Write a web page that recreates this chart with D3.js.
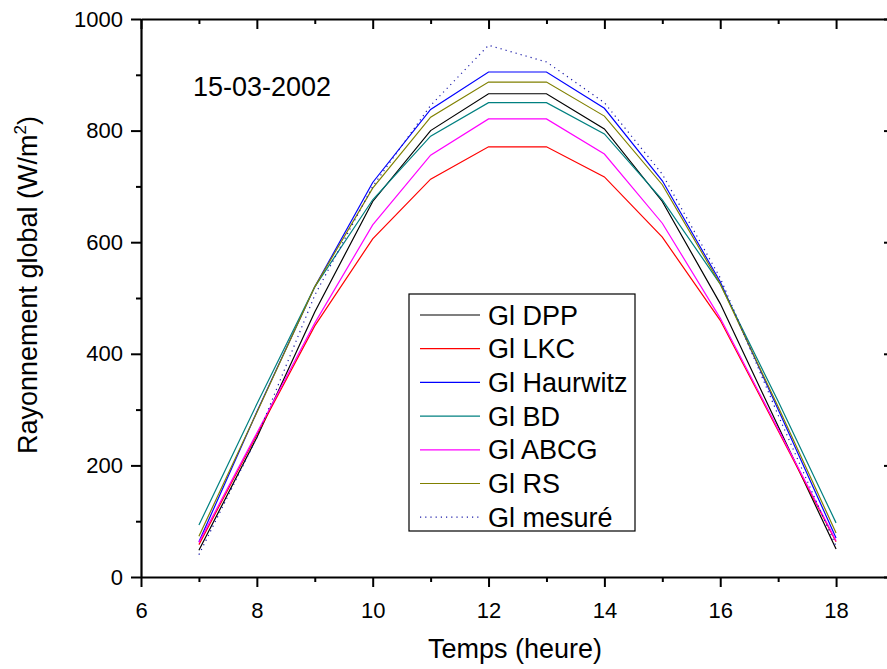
<!DOCTYPE html>
<html>
<head>
<meta charset="utf-8">
<script src="https://cdn.jsdelivr.net/npm/d3@7"></script>
<style>
  body { margin: 0; background: #fff; }
  text { font-family: Arial, "Liberation Sans", sans-serif; }
</style>
</head>
<body>
<script>
// Read the width and height of the page.
const width = 887;
const height = 669;

// data
const hours = [7, 8, 9, 10, 11, 12, 13, 14, 15, 16, 17, 18];
const glDPP = [48, 250, 475, 673, 800, 866, 866, 803, 673, 490, 270, 50];
const glLKC = [58, 255, 450, 606, 713, 771, 771, 717, 609, 460, 262, 63];
const glHaurwitz = [63, 296, 520, 707, 838, 905, 905, 840, 710, 529, 300, 70];
const glBD = [93, 310, 520, 676, 790, 850, 850, 794, 676, 525, 315, 97];
const glABCG = [62, 258, 455, 631, 756, 821, 821, 758, 634, 464, 265, 65];
const glRS = [73, 295, 520, 697, 824, 887, 887, 826, 703, 525, 305, 79];
const glMesure = [40, 250, 505, 700, 845, 953, 923, 850, 722, 536, 290, 55];

const seriesNames = ['Gl DPP', 'Gl LKC', 'Gl Haurwitz', 'Gl BD', 'Gl ABCG', 'Gl RS', 'Gl mesuré'];
const seriesValues = [glDPP, glLKC, glHaurwitz, glBD, glABCG, glRS, glMesure];
const seriesColors = ['#000000', '#ff0000', '#0000ff', '#008080', '#ff00ff', '#808000', '#1a1aa8'];

const xTicks = [6, 8, 10, 12, 14, 16, 18];
const yTicks = [0, 200, 400, 600, 800, 1000];

// svg
const svg = d3.select('body').append('svg').attr('width', width).attr('height', height);

const x = d3.scaleLinear().domain([6, 19]).range([141, 894]);
const y = d3.scaleLinear().domain([0, 1000]).range([577, 19]);

// lines
const line = d3.line().x((d, i) => x(hours[i])).y(d => y(d));

svg.append('g')
  .selectAll('path')
  .data(seriesValues)
  .join('path')
    .attr('d', line)
    .attr('fill', 'none')
    .attr('stroke', (d, i) => seriesColors[i])
    .attr('stroke-width', 1.2)
    .attr('stroke-dasharray', (d, i) => i === 6 ? '1.2,4' : null);

// axes
const styleAxis = (g) => {
  g.select('.domain').attr('stroke-width', 2.2);
  g.selectAll('.tick line').attr('stroke-width', 2);
  g.selectAll('.tick text').attr('font-size', 22).attr('font-family', 'Arial, "Liberation Sans", sans-serif');
};

// minor ticks
const minor = (g) => {
  g.select('.domain').remove();
  g.selectAll('.tick line').attr('stroke-width', 2);
};
svg.append('g').attr('transform', 'translate(0,577)')
  .call(d3.axisBottom(x).tickValues(d3.range(7, 19, 2)).tickSize(5).tickFormat(''))
  .call(minor);
svg.append('g').attr('transform', 'translate(141,0)')
  .call(d3.axisLeft(y).tickValues(d3.range(100, 1000, 200)).tickSize(5).tickFormat(''))
  .call(minor);
svg.append('g').attr('transform', 'translate(0,19)')
  .call(d3.axisBottom(x).tickValues(d3.range(7, 19, 2)).tickSize(5).tickFormat(''))
  .call(minor);
svg.append('g').attr('transform', 'translate(894,0)')
  .call(d3.axisLeft(y).tickValues(d3.range(100, 1000, 200)).tickSize(5).tickFormat(''))
  .call(minor);

svg.append('g').attr('transform', 'translate(0,577)')
  .call(d3.axisBottom(x).tickValues(xTicks).tickSize(10).tickSizeOuter(0).tickPadding(15).tickFormat(d3.format('d')))
  .call(styleAxis);
svg.append('g').attr('transform', 'translate(141,0)')
  .call(d3.axisLeft(y).tickValues(yTicks).tickSize(10).tickSizeOuter(0).tickPadding(8).tickFormat(d3.format('d')))
  .call(styleAxis);
svg.append('g').attr('transform', 'translate(0,19)')
  .call(d3.axisBottom(x).tickValues(xTicks).tickSize(10).tickSizeOuter(0).tickFormat(''))
  .call(styleAxis);
svg.append('g').attr('transform', 'translate(894,0)')
  .call(d3.axisLeft(y).tickValues(yTicks).tickSize(10).tickSizeOuter(0).tickFormat(''))
  .call(styleAxis);

// axis titles
svg.append('text')
  .attr('x', 515).attr('y', 658)
  .attr('text-anchor', 'middle')
  .attr('font-size', 27)
  .text('Temps (heure)');

const yTitle = svg.append('text')
  .attr('transform', 'translate(37,285) rotate(-90)')
  .attr('text-anchor', 'middle')
  .attr('font-size', 27);
yTitle.append('tspan').text('Rayonnement global (W/m');
yTitle.append('tspan').attr('font-size', 17).attr('dy', -11).text('2');
yTitle.append('tspan').attr('dy', 11).text(')');

// date label
svg.append('text')
  .attr('x', 193).attr('y', 96)
  .attr('font-size', 27)
  .text('15-03-2002');

// legend
const legend = svg.append('g');
legend.append('rect')
  .attr('x', 409).attr('y', 294)
  .attr('width', 226).attr('height', 237)
  .attr('fill', 'white')
  .attr('stroke', 'black')
  .attr('stroke-width', 1.2);

const rows = legend.selectAll('g.row')
  .data(seriesNames)
  .join('g')
    .attr('class', 'row')
    .attr('transform', (d, i) => `translate(0,${315 + i * 33.7})`);

rows.append('line')
  .attr('x1', 420).attr('x2', 480)
  .attr('stroke', (d, i) => seriesColors[i])
  .attr('stroke-width', 1.2)
  .attr('stroke-dasharray', (d, i) => i === 6 ? '1.2,4' : null);

rows.append('text')
  .attr('x', 488).attr('y', 9.5)
  .attr('font-size', 27)
  .text(d => d);
</script>
</body>
</html>
